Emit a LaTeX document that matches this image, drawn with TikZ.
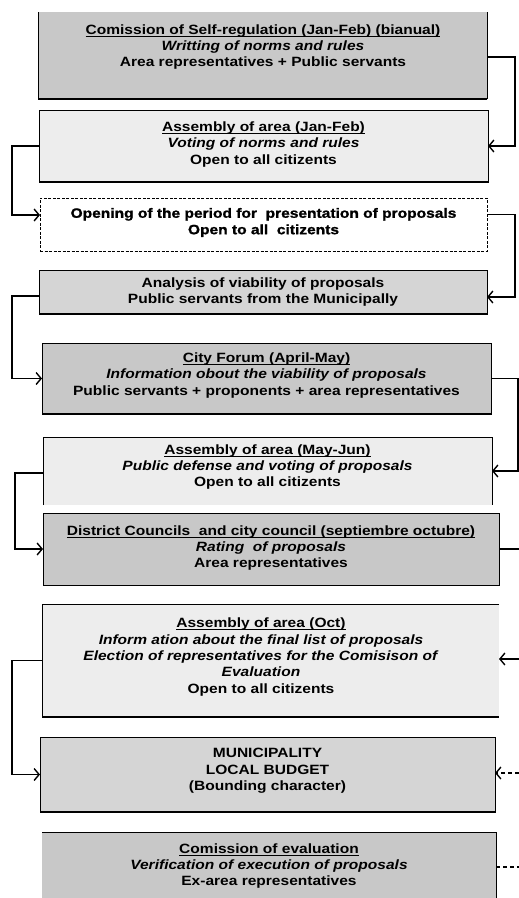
\documentclass[tikz,border=0pt]{standalone}
\usepackage{fontspec}
\setmainfont{Liberation Sans}[FakeStretch=1.155]
\newfontfamily\heavyface{Liberation Sans Bold}[FakeStretch=1.155, FakeBold=1.2]
\usetikzlibrary{arrows.meta}

% underline drawn at a fixed depth below the baseline
\newcommand\ulbar[1]{\setbox0\hbox{#1}\rlap{\vrule height -1.5bp depth 2.5bp width \wd0}\box0}

\definecolor{darkfill}{HTML}{C8C8C8}
\definecolor{midfill}{HTML}{D5D5D5}
\definecolor{lightfill}{HTML}{EDEDED}

\tikzset{
  stage/.style={rectangle, draw=black, line width=0.9bp, inner sep=0pt,
    outer sep=0pt, anchor=north west},
  caption/.style={align=center, inner sep=0pt,
    font=\bfseries\fontsize{13.5}{16.5}\selectfont},
  edge/.style={draw=black, line width=0.9bp},
  heavy/.style={draw=black, line width=2bp},
  flow/.style={line width=1.6bp,
    -{Straight Barb[length=5bp,width=12bp,line width=1.4bp]}},
  plain/.style={line width=1.6bp},
  dashflow/.style={flow, dash pattern=on 4bp off 3bp},
}

\begin{document}
\begin{tikzpicture}[x=1bp,y=-1bp]
\useasboundingbox (0,0) rectangle (519,898);

% ---------- stage boxes ----------
\node[stage, draw=none, fill=darkfill, minimum width=449bp, minimum height=87bp] (b1) at (38,12) {};
\draw[edge] (b1.north west) -- (b1.south west) (b1.south east) -- (b1.north east);
\draw[heavy] (b1.south west) -- (b1.south east);

\node[stage, fill=lightfill, minimum width=449bp, minimum height=72bp] (b2) at (39,110) {};
\draw[heavy] (b2.south west) -- (b2.south east);

\node[stage, fill=white, dash pattern=on 3bp off 1.5bp, minimum width=447bp, minimum height=53bp] (b3) at (40,198) {};

\node[stage, fill=midfill, minimum width=448bp, minimum height=44bp] (b4) at (39,270) {};
\draw[heavy] (b4.south west) -- (b4.south east);

\node[stage, fill=darkfill, minimum width=449bp, minimum height=71bp] (b5) at (42,343) {};
\draw[heavy] (b5.south west) -- (b5.south east);

\node[stage, draw=none, fill=lightfill, minimum width=449bp, minimum height=68bp] (b6) at (43,437) {};
\draw[edge] (b6.south west) -- (b6.north west) -- (b6.north east) -- (b6.south east);

\node[stage, fill=darkfill, minimum width=456bp, minimum height=72bp] (b7) at (43,513) {};

\node[stage, draw=none, fill=lightfill, minimum width=457bp, minimum height=113bp] (b8) at (42,604) {};
\draw[edge] (b8.north east) -- (b8.north west) -- (b8.south west);
\draw[heavy] (b8.south west) -- (b8.south east);

\node[stage, fill=midfill, minimum width=455bp, minimum height=75bp] (b9) at (40,737) {};
\draw[heavy] (b9.south west) -- (b9.south east);

\node[stage, draw=none, fill=darkfill, minimum width=454bp, minimum height=66bp] (b10) at (42,832) {};
\draw[edge] (b10.north west) -- (b10.north east) -- (b10.south east);

% ---------- box texts ----------
\node[caption] (t1) at (263,47) {\ulbar{Comission of Self-regulation (Jan-Feb) (bianual)}\\
  \textit{Writting of norms and rules}\\ Area representatives + Public servants};
\node[caption] (t2) at (263.5,144.5) {\ulbar{Assembly of area (Jan-Feb)}\\
  \textit{Voting of norms and rules}\\ Open to all citizents};
\node[caption, font=\heavyface\fontsize{13.5}{16.5}\selectfont] (t3) at (263.5,222.5)
  {Opening of the period for\ \ presentation of proposals\\ Open to all\ \ citizents};
\node[caption] (t4) at (263,292) {Analysis of viability of proposals\\
  Public servants from the Municipally};
\node[caption] (t5) at (266.5,375.5) {\ulbar{City Forum (April-May)}\\
  \textit{Information obout the viability of proposals}\\
  Public servants + proponents + area representatives};
\node[caption] (t6) at (267.5,467) {\ulbar{Assembly of area (May-Jun)}\\
  \textit{Public defense and voting of proposals}\\ Open to all citizents};
\node[caption] (t7) at (271,548) {\ulbar{District Councils\ \ and city council (septiembre octubre)}\\
  \textit{Rating\ \ of proposals}\\ Area representatives};
\node[caption] (t8) at (261,657) {\ulbar{Assembly of area (Oct)}\\
  \textit{Inform ation about the final list of proposals}\\
  \textit{Election of representatives for the Comisison of}\\
  \textit{Evaluation}\\ Open to all citizents};
\node[caption] (t9) at (267.5,771) {MUNICIPALITY\\ LOCAL BUDGET\\ (Bounding character)};
\node[caption] (t10) at (269,866) {\ulbar{Comission of evaluation}\\
  \textit{Verification of execution of proposals}\\ Ex-area representatives};

% ---------- free ends at the right margin ----------
\coordinate (stubA) at (519,549);
\coordinate (inA) at (519,659);
\coordinate (inB) at (519,773);
\coordinate (stubC) at (519,867);

% ---------- connectors ----------
\draw[flow] ([yshift=-1.5bp]b1.east) -- ++(28,0) |- (b2.east);
\draw[flow] (b2.west) -- ++(-27,0) |- ([yshift=9.5bp]b3.west);
\draw[flow] ([yshift=10bp]b3.east) -- ++(28,0) |- ([yshift=-5bp]b4.east);
\draw[flow] ([yshift=-4bp]b4.west) -- ++(-27,0) |- (b5.west);
\draw[flow] (b5.east) -- ++(27,0) |- (b6.east);
\draw[flow] ([yshift=-2bp]b6.west) -- ++(-28,0) |- (b7.west);
\draw[plain] (b7.east |- stubA) -- (stubA);
\draw[flow] (b8.west) -- ++(-30,0) |- (b9.west);
\draw[flow] (inA) -- (b8.east |- inA);
\draw[dashflow] (inB) -- (b9.east |- inB);
\draw[plain, dash pattern=on 4bp off 3bp] (b10.east |- stubC) -- (stubC);
\end{tikzpicture}
\end{document}
